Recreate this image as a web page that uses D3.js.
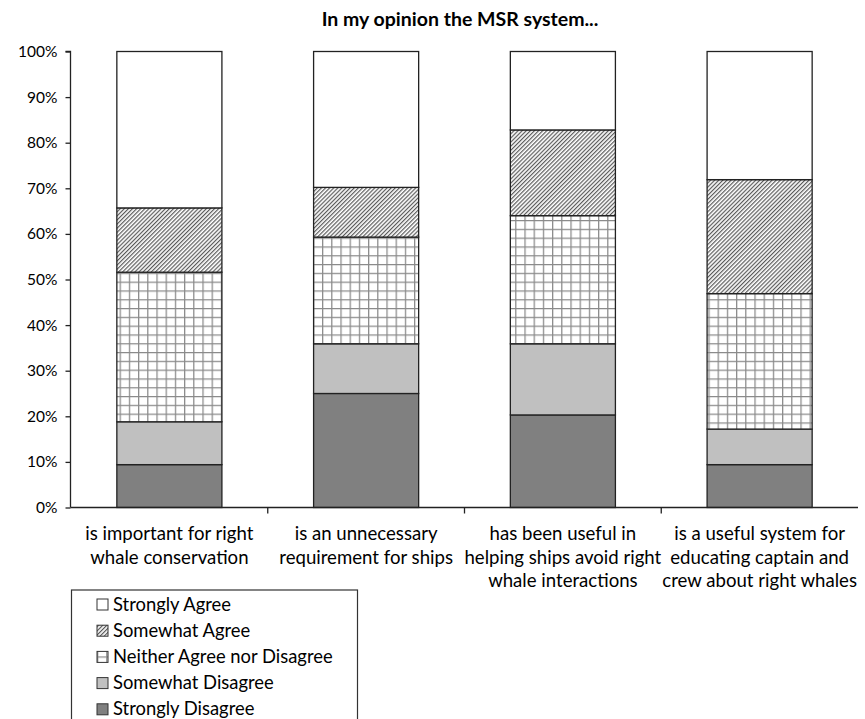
<!DOCTYPE html>
<html>
<head>
<script src="https://cdn.jsdelivr.net/npm/d3@7"></script>
<style>
  body { margin: 0; background: #fff; }
  text { font-family: Lato, "Open Sans", sans-serif; fill: #000; }
</style>
</head>
<body>
<div id="viz"></div>
<script>
// data: percent of respondents per answer, bottom to top
var categories = [
  ["is important for right", "whale conservation"],
  ["is an unnecessary", "requirement for ships"],
  ["has been useful in", "helping ships avoid right", "whale interactions"],
  ["is a useful system for", "educating captain and", "crew about right whales"]
];
var seriesNames = ["Strongly Disagree", "Somewhat Disagree", "Neither Agree nor Disagree", "Somewhat Agree", "Strongly Agree"];
var stronglyDisagree = [9.4, 25.0, 20.3, 9.4];
var somewhatDisagree = [9.4, 10.9, 15.6, 7.8];
var neither          = [32.8, 23.4, 28.1, 29.7];
var somewhatAgree    = [14.1, 10.9, 18.8, 25.0];
var stronglyAgree    = [34.3, 29.8, 17.2, 28.1];
var yTicks = [0, 10, 20, 30, 40, 50, 60, 70, 80, 90, 100];

var W = 865, H = 719;
var svg = d3.select("#viz").append("svg").attr("width", W).attr("height", H);

// fill patterns
var defs = svg.append("defs");
var hatch = defs.append("pattern").attr("id", "hatch")
  .attr("patternUnits", "userSpaceOnUse").attr("width", 2.9).attr("height", 2.9)
  .attr("patternTransform", "rotate(45)");
hatch.append("rect").attr("width", 2.9).attr("height", 2.9).attr("fill", "#fff");
hatch.append("line").attr("x1", 0.6).attr("y1", 0).attr("x2", 0.6).attr("y2", 2.9)
  .attr("stroke", "#5a5a5a").attr("stroke-width", 1.2);
var grid = defs.append("pattern").attr("id", "grid")
  .attr("patternUnits", "userSpaceOnUse").attr("width", 9.2).attr("height", 8.8);
grid.append("rect").attr("width", 9.2).attr("height", 8.8).attr("fill", "#fff");
grid.append("path").attr("d", "M0.6,0V8.8M0,0.6H9.2").attr("stroke", "#8a8a8a").attr("stroke-width", 1.3).attr("fill", "none");

var fills = ["#808080", "#c0c0c0", "url(#grid)", "url(#hatch)", "#fff"];

var x = d3.scaleBand().domain(d3.range(categories.length)).range([71, 858]).paddingInner(0.466).paddingOuter(0.233);
var y = d3.scaleLinear().domain([0, 100]).range([507.5, 51.5]);

var rows = categories.map(function(c, i) {
  return {i: i, sd: stronglyDisagree[i], swd: somewhatDisagree[i], n: neither[i], sa: somewhatAgree[i], sta: stronglyAgree[i]};
});
var stack = d3.stack().keys(["sd", "swd", "n", "sa", "sta"])(rows);

svg.append("text").attr("x", 460).attr("y", 26)
  .attr("text-anchor", "middle").attr("font-size", "19.5px").attr("font-weight", "bold")
  .text("In my opinion the MSR system...");

svg.append("g").selectAll("g").data(stack).enter().append("g")
  .attr("fill", function(d, k) { return fills[k]; })
  .selectAll("rect").data(function(d) { return d; }).enter().append("rect")
  .attr("x", function(d) { return x(d.data.i); })
  .attr("width", x.bandwidth())
  .attr("y", function(d) { return y(d[1]); })
  .attr("height", function(d) { return y(d[0]) - y(d[1]); })
  .attr("stroke", "#222").attr("stroke-width", 1.3);

// y axis
var yAxis = svg.append("g").attr("transform", "translate(70.5,0)")
  .call(d3.axisLeft(y).tickValues(yTicks).tickSize(5).tickPadding(8).tickFormat(function(d) { return d + "%"; }));
yAxis.selectAll("text").attr("font-size", "15.5px");
yAxis.selectAll("line, path").attr("stroke", "#222").attr("stroke-width", 1.3);
yAxis.select(".domain").attr("d", "M-5," + y(100) + "H0V" + y(0));

// x axis line with ticks between categories
var step = x.step();
var xAxis = svg.append("g").attr("transform", "translate(0," + y(0) + ")");
xAxis.append("line").attr("x1", 70.5).attr("x2", 858).attr("stroke", "#222").attr("stroke-width", 1.3);
xAxis.selectAll(".tk").data(d3.range(1, categories.length)).enter().append("line")
  .attr("x1", function(i) { return x.range()[0] + i * step; })
  .attr("x2", function(i) { return x.range()[0] + i * step; })
  .attr("y1", 0).attr("y2", 6).attr("stroke", "#222").attr("stroke-width", 1.3);

var labels = svg.append("g").selectAll("text").data(categories).enter().append("text")
  .attr("text-anchor", "middle").attr("font-size", "18.6px")
  .attr("x", function(d, i) { return x(i) + x.bandwidth() / 2; })
  .attr("y", 540);
labels.selectAll("tspan").data(function(d) { return d; }).enter().append("tspan")
  .attr("x", function() { return d3.select(this.parentNode).attr("x"); })
  .attr("dy", function(d, j) { return j === 0 ? 0 : 23.5; })
  .text(function(d) { return d; });

// legend
var legend = svg.append("g");
legend.append("rect").attr("x", 71.5).attr("y", 590).attr("width", 286).attr("height", 140)
  .attr("fill", "#fff").attr("stroke", "#333").attr("stroke-width", 1.2);
var order = [4, 3, 2, 1, 0];
var items = legend.selectAll(".item").data(order).enter().append("g")
  .attr("transform", function(k, j) { return "translate(97," + (604 + j * 26.2) + ")"; });
items.append("rect").attr("x", 0).attr("y", -5).attr("width", 11).attr("height", 11)
  .attr("fill", function(k) { return fills[k]; }).attr("stroke", "#333").attr("stroke-width", 1);
items.append("text").attr("x", 16).attr("y", 6.5).attr("font-size", "18.4px")
  .text(function(k) { return seriesNames[k]; });
</script>
</body>
</html>
